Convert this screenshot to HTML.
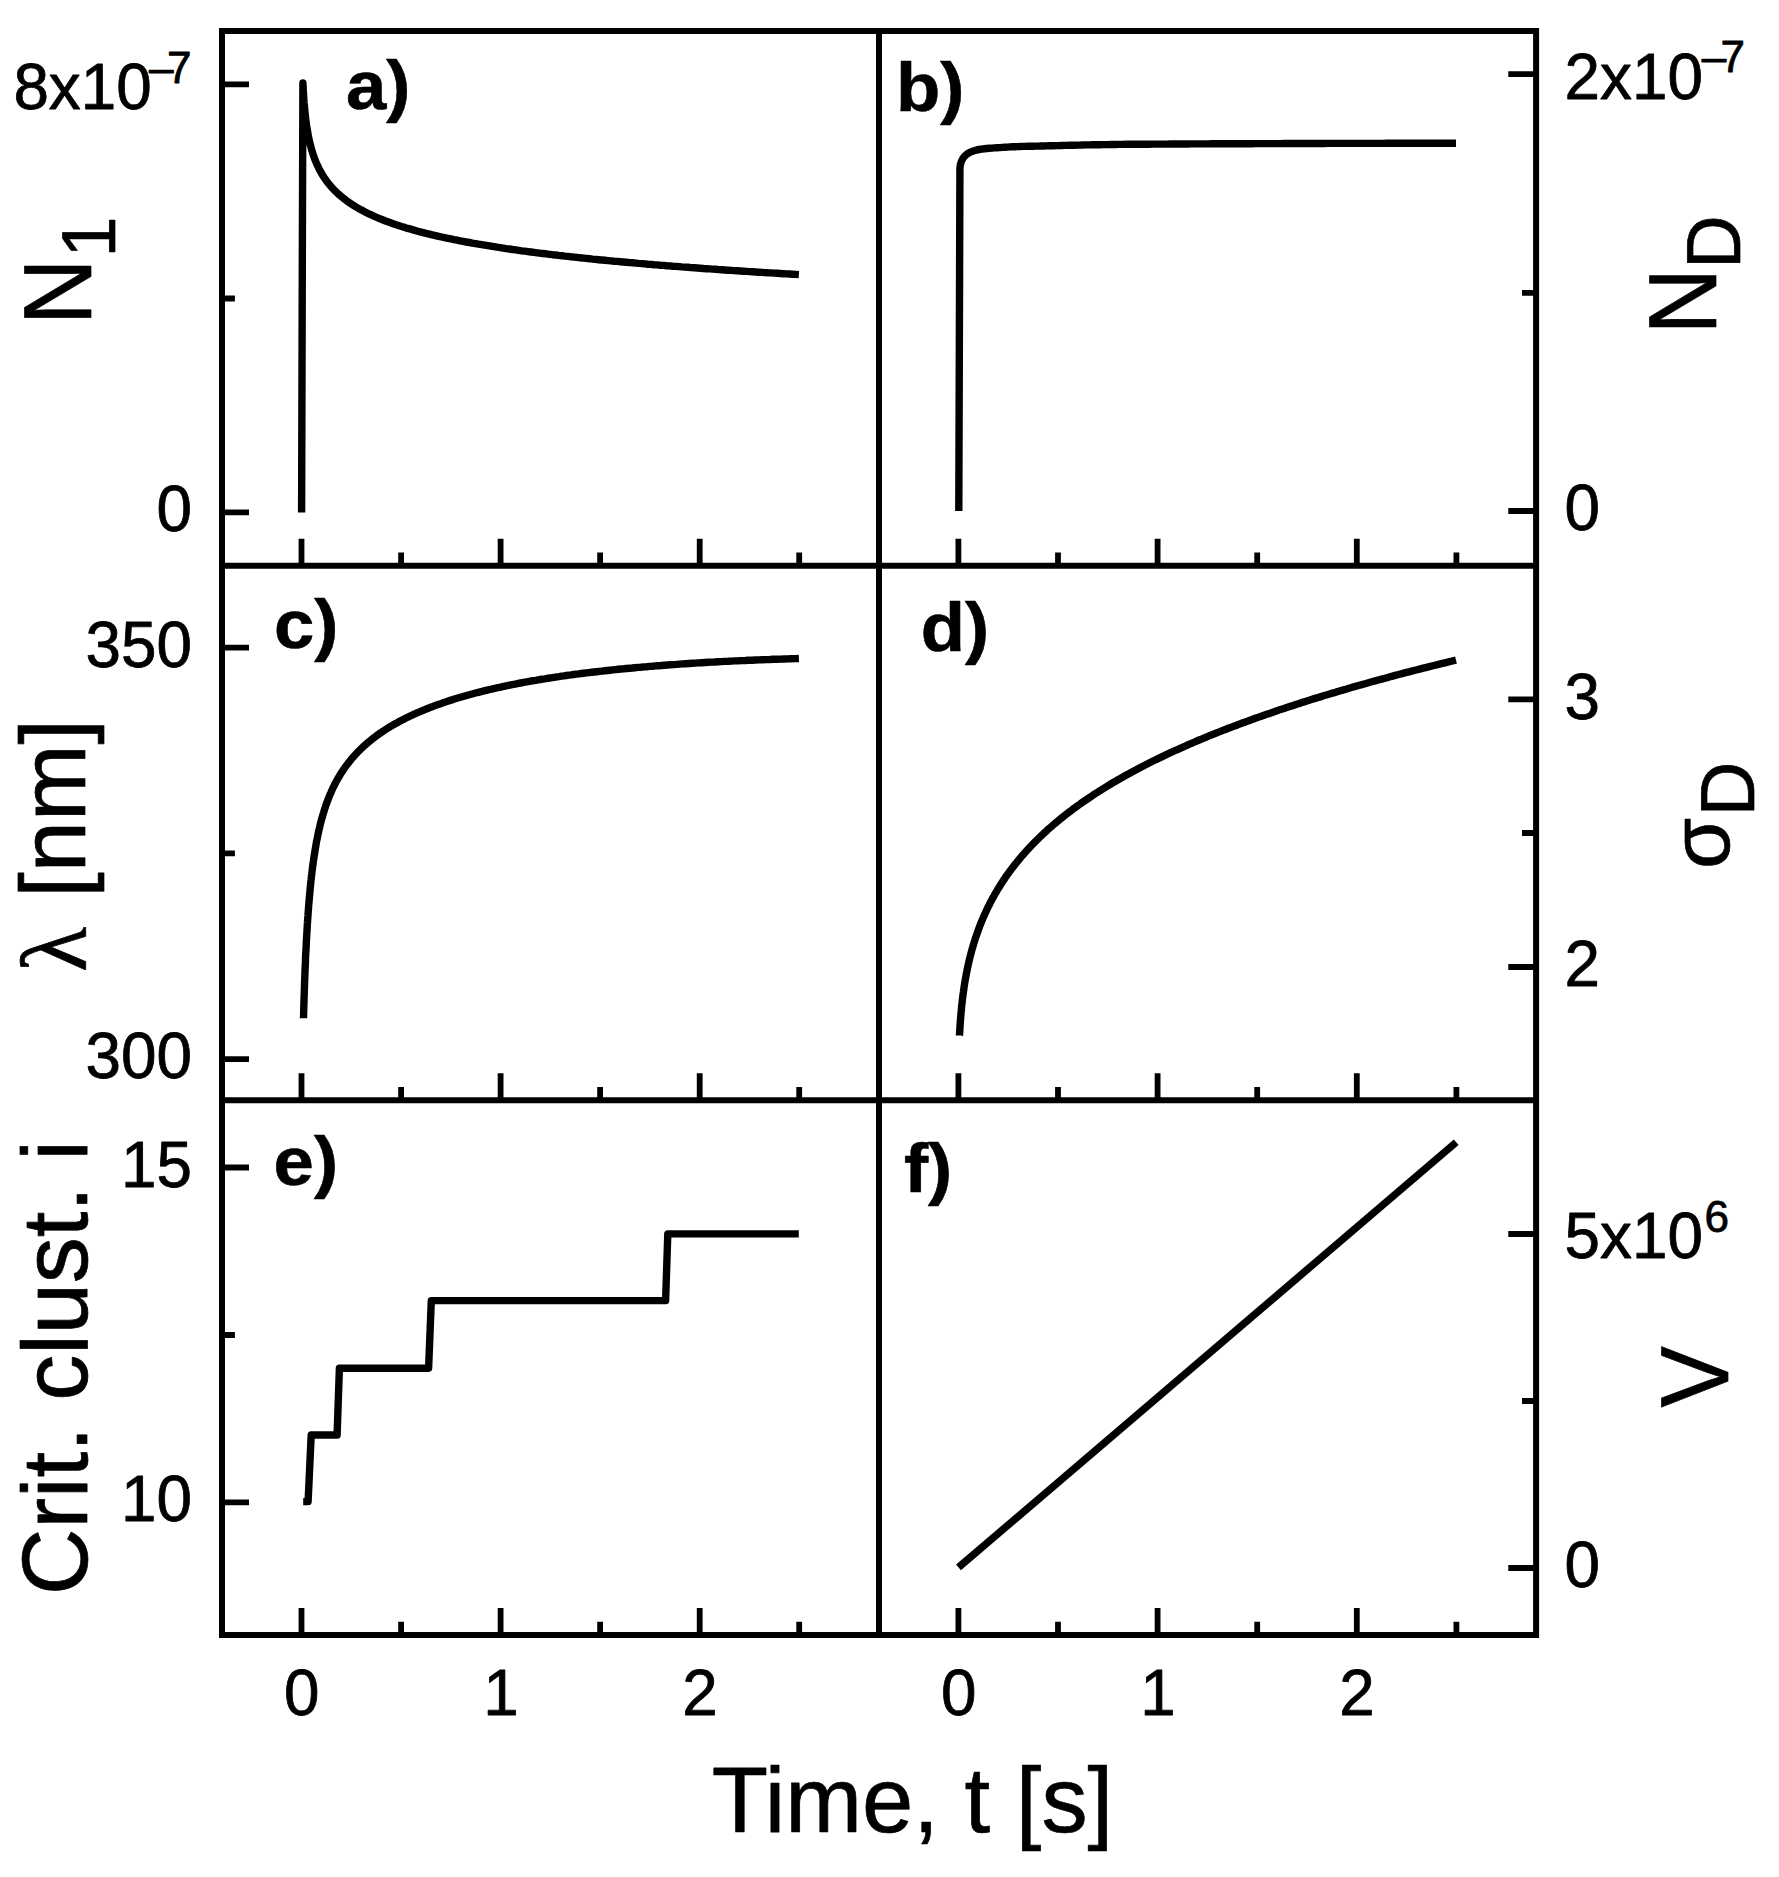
<!DOCTYPE html>
<html lang="en"><head><meta charset="utf-8"><title>Figure</title>
<style>html,body{margin:0;padding:0;background:#fff}svg{display:block}</style></head>
<body>
<svg width="1779" height="1877" viewBox="0 0 1779 1877">
<rect width="1779" height="1877" fill="#fff"/>
<g fill="none" stroke="#000" stroke-width="6.0" stroke-linecap="butt" stroke-linejoin="miter">
<rect x="222.0" y="31.0" width="1314.1" height="1604.0"/>
<path d="M879.0,31.0V1635.0M222.0,565.8H1536.1M222.0,1100.3H1536.1"/>
</g>
<path d="M301.5,565.8v-27.0M401.1,565.8v-13.3M500.6,565.8v-27.0M600.1,565.8v-13.3M699.7,565.8v-27.0M799.2,565.8v-13.3M958.4,565.8v-27.0M1058.0,565.8v-13.3M1157.6,565.8v-27.0M1257.2,565.8v-13.3M1356.8,565.8v-27.0M1456.4,565.8v-13.3M301.5,1100.3v-27.0M401.1,1100.3v-13.3M500.6,1100.3v-27.0M600.1,1100.3v-13.3M699.7,1100.3v-27.0M799.2,1100.3v-13.3M958.4,1100.3v-27.0M1058.0,1100.3v-13.3M1157.6,1100.3v-27.0M1257.2,1100.3v-13.3M1356.8,1100.3v-27.0M1456.4,1100.3v-13.3M301.5,1635.0v-27.0M401.1,1635.0v-13.3M500.6,1635.0v-27.0M600.1,1635.0v-13.3M699.7,1635.0v-27.0M799.2,1635.0v-13.3M958.4,1635.0v-27.0M1058.0,1635.0v-13.3M1157.6,1635.0v-27.0M1257.2,1635.0v-13.3M1356.8,1635.0v-27.0M1456.4,1635.0v-13.3M222.0,84.4h27.0M222.0,512.4h27.0M222.0,647.7h27.0M222.0,1059.1h27.0M222.0,1167.5h27.0M222.0,1502.4h27.0M222.0,298.5h12.9M222.0,853.3h12.9M222.0,1335.0h12.9M1536.1,74.2h-27.8M1536.1,511.0h-27.8M1536.1,699.4h-27.8M1536.1,967.0h-27.8M1536.1,1234.0h-27.8M1536.1,1568.0h-27.8M1536.1,292.8h-14.1M1536.1,833.0h-14.1M1536.1,1401.0h-14.1" fill="none" stroke="#000" stroke-width="5.8"/>
<g fill="none" stroke="#000" stroke-width="7.4" stroke-linejoin="round" stroke-linecap="butt">
<path d="M301.6,512.4L302.2,300.0L302.9,82.9L303.2,89.0L303.5,94.3L303.8,99.0L304.1,103.1L304.5,106.9L304.8,110.3L305.1,113.4L305.4,116.2L305.7,118.9L306.0,121.4L306.3,123.7L306.6,125.9L307.0,127.9L307.3,129.8L307.6,131.7L307.9,133.4L308.2,135.1L308.5,136.7L308.8,138.2L309.1,139.7L309.4,141.1L309.8,142.5L310.1,143.8L310.4,145.0L310.7,146.2L311.0,147.4L311.3,148.5L311.6,149.6L311.9,150.7L312.3,151.7L312.6,152.7L312.9,153.7L313.2,154.6L313.5,155.5L313.8,156.4L314.1,157.3L314.4,158.2L314.7,159.0L315.1,159.8L315.4,160.6L315.7,161.4L316.0,162.1L316.3,162.9L316.6,163.6L316.9,164.3L317.2,165.0L317.6,165.7L317.9,166.3L318.2,167.0L318.5,167.6L318.8,168.3L319.1,168.9L319.4,169.5L319.7,170.1L320.0,170.7L320.4,171.2L320.7,171.8L321.0,172.4L321.3,172.9L321.6,173.4L321.9,174.0L322.2,174.5L322.5,175.0L322.9,175.5L323.2,176.0L323.5,176.5L323.8,177.0L324.1,177.4L324.4,177.9L324.7,178.4L325.0,178.8L325.3,179.3L325.7,179.7L326.0,180.2L326.3,180.6L326.6,181.0L326.9,181.4L327.2,181.9L327.5,182.3L327.8,182.7L328.2,183.1L328.5,183.5L328.8,183.9L329.1,184.2L329.4,184.6L329.7,185.0L330.0,185.4L330.3,185.7L330.6,186.1L331.0,186.5L331.3,186.8L331.6,187.2L331.9,187.5L332.2,187.9L332.5,188.2L332.8,188.5L333.1,188.9L333.5,189.2L333.8,189.5L334.1,189.9L334.4,190.2L334.7,190.5L335.0,190.8L335.3,191.1L335.6,191.4L335.9,191.7L336.3,192.0L336.6,192.3L336.9,192.6L337.2,192.9L337.5,193.2L337.8,193.5L338.1,193.8L338.4,194.1L338.8,194.3L339.1,194.6L339.4,194.9L339.7,195.2L340.0,195.4L343.1,198.0L346.2,200.4L349.2,202.6L352.3,204.6L355.4,206.6L358.5,208.4L361.6,210.1L364.6,211.7L367.7,213.3L370.8,214.7L373.9,216.1L377.0,217.5L380.0,218.8L383.1,220.0L386.2,221.2L389.3,222.3L392.4,223.4L395.4,224.5L398.5,225.5L401.6,226.5L404.7,227.4L407.8,228.4L410.8,229.2L413.9,230.1L417.0,231.0L420.1,231.8L423.2,232.6L426.2,233.4L429.3,234.1L432.4,234.9L435.5,235.6L438.6,236.3L441.6,237.0L444.7,237.7L447.8,238.3L450.9,238.9L454.0,239.6L457.0,240.2L460.1,240.8L463.2,241.4L466.3,242.0L469.4,242.5L472.4,243.1L475.5,243.6L478.6,244.2L481.7,244.7L484.8,245.2L487.8,245.7L490.9,246.2L494.0,246.7L497.1,247.2L500.2,247.6L503.2,248.1L506.3,248.6L509.4,249.0L512.5,249.5L515.6,249.9L518.6,250.3L521.7,250.8L524.8,251.2L527.9,251.6L531.0,252.0L534.0,252.4L537.1,252.8L540.2,253.2L543.3,253.5L546.4,253.9L549.4,254.3L552.5,254.7L555.6,255.0L558.7,255.4L561.8,255.7L564.8,256.1L567.9,256.4L571.0,256.8L574.1,257.1L577.1,257.4L580.2,257.8L583.3,258.1L586.4,258.4L589.5,258.7L592.5,259.1L595.6,259.4L598.7,259.7L601.8,260.0L604.9,260.3L607.9,260.6L611.0,260.9L614.1,261.2L617.2,261.4L620.3,261.7L623.3,262.0L626.4,262.3L629.5,262.6L632.6,262.8L635.7,263.1L638.7,263.4L641.8,263.6L644.9,263.9L648.0,264.2L651.1,264.4L654.1,264.7L657.2,264.9L660.3,265.2L663.4,265.4L666.5,265.7L669.5,265.9L672.6,266.2L675.7,266.4L678.8,266.6L681.9,266.9L684.9,267.1L688.0,267.3L691.1,267.6L694.2,267.8L697.3,268.0L700.3,268.2L703.4,268.5L706.5,268.7L709.6,268.9L712.7,269.1L715.7,269.3L718.8,269.6L721.9,269.8L725.0,270.0L728.1,270.2L731.1,270.4L734.2,270.6L737.3,270.8L740.4,271.0L743.5,271.2L746.5,271.4L749.6,271.6L752.7,271.8L755.8,272.0L758.9,272.2L761.9,272.4L765.0,272.6L768.1,272.8L771.2,272.9L774.3,273.1L777.3,273.3L780.4,273.5L783.5,273.7L786.6,273.9L789.7,274.0L792.7,274.2L795.8,274.4L798.9,274.6"/>
<path d="M958.8,511.0L959.9,175.0L959.9,172.4L959.9,169.8L960.0,167.3L960.4,164.7L961.1,162.2L962.1,159.8L963.4,157.6L965.1,155.7L967.1,154.0L969.3,152.7L971.7,151.6L974.1,150.7L976.6,150.0L979.1,149.5L981.7,149.1L984.3,148.8L986.8,148.5L989.4,148.3L992.0,148.1L994.5,147.9L997.1,147.7L999.7,147.6L1002.3,147.4L1004.8,147.2L1007.4,147.1L1010.0,146.9L1012.5,146.8L1015.1,146.7L1017.7,146.6L1020.3,146.5L1022.9,146.4L1025.4,146.4L1028.0,146.3L1030.6,146.2L1033.2,146.2L1035.7,146.1L1038.3,146.1L1040.9,146.0L1043.5,146.0L1046.1,145.9L1048.6,145.8L1051.2,145.8L1053.8,145.7L1056.4,145.6L1058.9,145.6L1061.5,145.5L1064.1,145.4L1066.7,145.4L1069.3,145.3L1071.8,145.2L1074.4,145.2L1077.0,145.1L1079.6,145.1L1082.1,145.0L1084.7,144.9L1087.3,144.9L1089.9,144.9L1092.5,144.8L1095.0,144.8L1097.6,144.7L1100.2,144.7L1102.8,144.6L1105.3,144.6L1107.9,144.6L1110.5,144.5L1113.1,144.5L1115.7,144.5L1118.2,144.4L1120.8,144.4L1123.4,144.4L1126.0,144.3L1128.5,144.3L1131.1,144.3L1133.7,144.3L1136.3,144.2L1138.9,144.2L1141.4,144.2L1144.0,144.2L1146.6,144.2L1149.2,144.2L1151.8,144.1L1154.3,144.1L1156.9,144.1L1159.5,144.1L1162.1,144.1L1164.6,144.1L1167.2,144.1L1169.8,144.0L1172.4,144.0L1175.0,144.0L1177.5,144.0L1180.1,144.0L1182.7,144.0L1185.3,144.0L1187.8,144.0L1190.4,143.9L1193.0,143.9L1195.6,143.9L1198.2,143.9L1200.7,143.9L1203.3,143.9L1205.9,143.9L1208.5,143.9L1211.1,143.8L1213.6,143.8L1216.2,143.8L1218.8,143.8L1221.4,143.8L1223.9,143.8L1226.5,143.8L1229.1,143.8L1231.7,143.7L1234.3,143.7L1236.8,143.7L1239.4,143.7L1242.0,143.7L1244.6,143.7L1247.2,143.7L1249.7,143.7L1252.3,143.7L1254.9,143.6L1257.5,143.6L1260.0,143.6L1262.6,143.6L1265.2,143.6L1267.8,143.6L1270.4,143.6L1272.9,143.6L1275.5,143.6L1278.1,143.6L1280.7,143.6L1283.2,143.5L1285.8,143.5L1288.4,143.5L1291.0,143.5L1293.6,143.5L1296.1,143.5L1298.7,143.5L1301.3,143.5L1303.9,143.5L1306.5,143.5L1309.0,143.5L1311.6,143.5L1314.2,143.5L1316.8,143.5L1319.3,143.5L1321.9,143.5L1324.5,143.5L1327.1,143.4L1329.7,143.4L1332.2,143.4L1334.8,143.4L1337.4,143.4L1340.0,143.4L1342.6,143.4L1345.1,143.4L1347.7,143.4L1350.3,143.4L1352.9,143.4L1355.4,143.4L1358.0,143.4L1360.6,143.4L1363.2,143.4L1365.8,143.4L1368.3,143.4L1370.9,143.4L1373.5,143.4L1376.1,143.4L1378.6,143.4L1381.2,143.4L1383.8,143.4L1386.4,143.3L1389.0,143.3L1391.5,143.3L1394.1,143.3L1396.7,143.3L1399.3,143.3L1401.9,143.3L1404.4,143.3L1407.0,143.3L1409.6,143.3L1412.2,143.3L1414.7,143.3L1417.3,143.3L1419.9,143.3L1422.5,143.3L1425.1,143.3L1427.6,143.3L1430.2,143.3L1432.8,143.3L1435.4,143.3L1438.0,143.3L1440.5,143.3L1443.1,143.3L1445.7,143.3L1448.3,143.3L1450.8,143.3L1453.4,143.3L1456.0,143.3"/>
<path d="M303.5,1018.2L303.5,1018.2L303.5,1018.2L303.5,1018.2L303.5,1018.2L303.5,1018.2L303.5,1018.1L303.5,1018.1L303.5,1018.0L303.5,1018.0L303.5,1017.9L303.5,1017.8L303.5,1017.7L303.5,1017.5L303.5,1017.4L303.5,1017.2L303.5,1017.0L303.5,1016.8L303.5,1016.5L303.6,1016.2L303.6,1015.9L303.6,1015.5L303.6,1015.1L303.6,1014.7L303.6,1014.2L303.6,1013.7L303.6,1013.1L303.7,1012.5L303.7,1011.9L303.7,1011.2L303.7,1010.5L303.7,1009.7L303.8,1008.9L303.8,1008.0L303.8,1007.1L303.8,1006.2L303.9,1005.1L303.9,1004.1L303.9,1003.0L304.0,1001.8L304.0,1000.6L304.0,999.4L304.1,998.1L304.1,996.7L304.2,995.3L304.2,993.9L304.3,992.4L304.3,990.9L304.4,989.3L304.4,987.7L304.5,986.0L304.5,984.3L304.6,982.5L304.7,980.7L304.7,978.9L304.8,977.0L304.9,975.1L304.9,973.2L305.0,971.2L305.1,969.2L305.2,967.2L305.3,965.1L305.4,963.0L305.5,960.9L305.5,958.7L305.6,956.6L305.7,954.4L305.8,952.2L306.0,949.9L306.1,947.7L306.2,945.5L306.3,943.2L306.4,940.9L306.5,938.6L306.7,936.3L306.8,934.0L306.9,931.7L307.1,929.4L307.2,927.1L307.3,924.8L307.5,922.5L307.6,920.1L307.8,917.8L308.0,915.5L308.1,913.2L308.3,910.9L308.5,908.6L308.6,906.4L308.8,904.1L309.0,901.8L309.2,899.6L309.4,897.3L309.6,895.1L309.8,892.9L310.0,890.7L310.2,888.5L310.4,886.4L310.6,884.2L310.8,882.1L311.1,879.9L311.3,877.8L311.5,875.7L311.8,873.7L312.0,871.6L312.3,869.6L312.5,867.6L312.8,865.6L313.1,863.6L313.3,861.6L313.6,859.7L313.9,857.7L314.2,855.8L314.5,853.9L314.8,852.1L315.1,850.2L315.4,848.4L315.7,846.6L316.0,844.8L316.3,843.0L316.6,841.2L317.0,839.5L317.3,837.8L317.7,836.1L318.0,834.4L318.4,832.7L318.7,831.1L319.1,829.4L319.5,827.8L319.9,826.2L320.2,824.6L320.6,823.1L321.0,821.5L321.4,820.0L321.8,818.5L322.3,817.0L322.7,815.5L323.1,814.1L323.6,812.6L324.0,811.2L324.4,809.7L324.9,808.3L325.4,807.0L325.8,805.6L326.3,804.2L326.8,802.9L327.3,801.5L327.8,800.2L328.3,798.9L328.8,797.6L329.3,796.3L329.8,795.1L330.4,793.8L330.9,792.6L331.4,791.3L332.0,790.1L332.5,788.9L333.1,787.7L333.7,786.5L334.3,785.4L334.8,784.2L335.4,783.1L336.0,781.9L336.7,780.8L337.3,779.7L337.9,778.6L338.5,777.5L339.2,776.4L339.8,775.3L340.5,774.2L341.1,773.2L341.8,772.1L342.5,771.1L343.2,770.1L343.9,769.0L344.6,768.0L345.3,767.0L346.0,766.0L346.7,765.0L347.5,764.1L348.2,763.1L349.0,762.1L349.7,761.2L350.5,760.2L351.3,759.3L352.1,758.3L352.9,757.4L353.7,756.5L354.5,755.6L355.3,754.7L356.2,753.8L357.0,752.9L357.8,752.0L358.7,751.1L359.6,750.3L360.4,749.4L361.3,748.5L362.2,747.7L363.1,746.8L364.0,746.0L365.0,745.2L365.9,744.3L366.8,743.5L367.8,742.7L368.7,741.9L369.7,741.1L370.7,740.3L371.7,739.5L372.7,738.7L373.7,737.9L374.7,737.2L375.7,736.4L376.8,735.6L377.8,734.9L378.9,734.1L379.9,733.4L381.0,732.6L382.1,731.9L383.2,731.1L384.3,730.4L385.4,729.7L386.5,729.0L387.7,728.2L388.8,727.5L390.0,726.8L391.2,726.1L392.3,725.4L393.5,724.7L394.7,724.0L395.9,723.4L397.2,722.7L398.4,722.0L399.6,721.3L400.9,720.7L402.2,720.0L403.4,719.4L404.7,718.7L406.0,718.0L407.3,717.4L408.6,716.8L410.0,716.1L411.3,715.5L412.7,714.9L414.0,714.2L415.4,713.6L416.8,713.0L418.2,712.4L419.6,711.8L421.0,711.2L422.5,710.6L423.9,710.0L425.4,709.4L426.8,708.8L428.3,708.2L429.8,707.6L431.3,707.0L432.8,706.5L434.3,705.9L435.9,705.3L437.4,704.8L439.0,704.2L440.6,703.7L442.2,703.1L443.8,702.5L445.4,702.0L447.0,701.5L448.6,700.9L450.3,700.4L451.9,699.9L453.6,699.3L455.3,698.8L457.0,698.3L458.7,697.8L460.4,697.3L462.2,696.7L463.9,696.2L465.7,695.7L467.5,695.2L469.3,694.7L471.1,694.2L472.9,693.8L474.7,693.3L476.5,692.8L478.4,692.3L480.3,691.8L482.1,691.4L484.0,690.9L485.9,690.4L487.9,690.0L489.8,689.5L491.7,689.1L493.7,688.6L495.7,688.2L497.7,687.7L499.7,687.3L501.7,686.8L503.7,686.4L505.8,686.0L507.8,685.5L509.9,685.1L512.0,684.7L514.1,684.3L516.2,683.9L518.3,683.4L520.5,683.0L522.6,682.6L524.8,682.2L527.0,681.8L529.2,681.4L531.4,681.0L533.6,680.6L535.8,680.3L538.1,679.9L540.4,679.5L542.6,679.1L544.9,678.8L547.3,678.4L549.6,678.0L551.9,677.7L554.3,677.3L556.7,676.9L559.1,676.6L561.5,676.2L563.9,675.9L566.3,675.5L568.8,675.2L571.2,674.9L573.7,674.5L576.2,674.2L578.7,673.9L581.2,673.5L583.8,673.2L586.3,672.9L588.9,672.6L591.5,672.3L594.1,672.0L596.7,671.7L599.3,671.4L602.0,671.1L604.7,670.8L607.3,670.5L610.0,670.2L612.7,669.9L615.5,669.6L618.2,669.3L621.0,669.0L623.8,668.8L626.5,668.5L629.4,668.2L632.2,668.0L635.0,667.7L637.9,667.4L640.8,667.2L643.6,666.9L646.6,666.7L649.5,666.4L652.4,666.2L655.4,665.9L658.3,665.7L661.3,665.5L664.3,665.2L667.4,665.0L670.4,664.8L673.5,664.6L676.5,664.4L679.6,664.1L682.7,663.9L685.9,663.7L689.0,663.5L692.2,663.3L695.3,663.1L698.5,662.9L701.8,662.7L705.0,662.5L708.2,662.3L711.5,662.1L714.8,662.0L718.1,661.8L721.4,661.6L724.7,661.4L728.1,661.3L731.4,661.1L734.8,660.9L738.2,660.8L741.7,660.6L745.1,660.5L748.6,660.3L752.0,660.2L755.5,660.0L759.0,659.9L762.6,659.7L766.1,659.6L769.7,659.5L773.3,659.3L776.9,659.2L780.5,659.1L784.1,659.0L787.8,658.9L791.5,658.7L795.2,658.6L798.9,658.5"/>
<path d="M959.5,1035.6L959.5,1035.6L959.5,1035.6L959.5,1035.6L959.5,1035.6L959.5,1035.6L959.5,1035.6L959.5,1035.5L959.5,1035.5L959.5,1035.5L959.5,1035.4L959.5,1035.4L959.5,1035.3L959.5,1035.3L959.5,1035.2L959.5,1035.1L959.5,1035.0L959.5,1034.8L959.5,1034.7L959.6,1034.5L959.6,1034.4L959.6,1034.2L959.6,1033.9L959.6,1033.7L959.6,1033.5L959.6,1033.2L959.6,1032.9L959.7,1032.6L959.7,1032.3L959.7,1031.9L959.7,1031.5L959.7,1031.1L959.8,1030.7L959.8,1030.3L959.8,1029.8L959.8,1029.4L959.9,1028.9L959.9,1028.3L959.9,1027.8L960.0,1027.2L960.0,1026.6L960.0,1026.0L960.1,1025.4L960.1,1024.8L960.2,1024.1L960.2,1023.4L960.3,1022.7L960.3,1022.0L960.4,1021.3L960.4,1020.5L960.5,1019.7L960.5,1019.0L960.6,1018.2L960.7,1017.3L960.7,1016.5L960.8,1015.7L960.9,1014.8L960.9,1013.9L961.0,1013.0L961.1,1012.2L961.2,1011.2L961.3,1010.3L961.4,1009.4L961.5,1008.4L961.5,1007.5L961.6,1006.5L961.7,1005.6L961.9,1004.6L962.0,1003.6L962.1,1002.6L962.2,1001.6L962.3,1000.6L962.4,999.5L962.5,998.5L962.7,997.5L962.8,996.4L962.9,995.4L963.1,994.3L963.2,993.3L963.4,992.2L963.5,991.1L963.7,990.1L963.8,989.0L964.0,987.9L964.1,986.8L964.3,985.7L964.5,984.6L964.6,983.5L964.8,982.4L965.0,981.3L965.2,980.2L965.4,979.1L965.6,978.0L965.8,976.9L966.0,975.8L966.2,974.6L966.4,973.5L966.6,972.4L966.9,971.3L967.1,970.1L967.3,969.0L967.6,967.9L967.8,966.7L968.0,965.6L968.3,964.4L968.5,963.3L968.8,962.2L969.1,961.0L969.3,959.9L969.6,958.7L969.9,957.6L970.2,956.4L970.5,955.3L970.8,954.2L971.1,953.0L971.4,951.9L971.7,950.7L972.0,949.6L972.3,948.4L972.7,947.3L973.0,946.1L973.3,945.0L973.7,943.8L974.0,942.7L974.4,941.5L974.8,940.4L975.1,939.2L975.5,938.1L975.9,936.9L976.3,935.8L976.7,934.6L977.1,933.5L977.5,932.3L977.9,931.2L978.3,930.0L978.7,928.9L979.2,927.7L979.6,926.6L980.0,925.4L980.5,924.3L980.9,923.1L981.4,922.0L981.9,920.9L982.4,919.7L982.8,918.6L983.3,917.4L983.8,916.3L984.3,915.1L984.8,914.0L985.4,912.9L985.9,911.7L986.4,910.6L986.9,909.4L987.5,908.3L988.0,907.2L988.6,906.0L989.2,904.9L989.7,903.8L990.3,902.6L990.9,901.5L991.5,900.4L992.1,899.2L992.7,898.1L993.4,897.0L994.0,895.9L994.6,894.7L995.3,893.6L995.9,892.5L996.6,891.4L997.2,890.2L997.9,889.1L998.6,888.0L999.3,886.9L1000.0,885.8L1000.7,884.6L1001.4,883.5L1002.1,882.4L1002.8,881.3L1003.6,880.2L1004.3,879.1L1005.1,878.0L1005.8,876.8L1006.6,875.7L1007.4,874.6L1008.2,873.5L1009.0,872.4L1009.8,871.3L1010.6,870.2L1011.4,869.1L1012.3,868.0L1013.1,866.9L1014.0,865.8L1014.8,864.7L1015.7,863.6L1016.6,862.5L1017.5,861.4L1018.4,860.3L1019.3,859.2L1020.2,858.1L1021.1,857.0L1022.0,855.9L1023.0,854.9L1023.9,853.8L1024.9,852.7L1025.9,851.6L1026.8,850.5L1027.8,849.4L1028.8,848.4L1029.8,847.3L1030.9,846.2L1031.9,845.1L1032.9,844.0L1034.0,843.0L1035.0,841.9L1036.1,840.8L1037.2,839.7L1038.3,838.7L1039.4,837.6L1040.5,836.5L1041.6,835.5L1042.7,834.4L1043.9,833.3L1045.0,832.3L1046.2,831.2L1047.4,830.1L1048.5,829.1L1049.7,828.0L1050.9,827.0L1052.1,825.9L1053.4,824.8L1054.6,823.8L1055.8,822.7L1057.1,821.7L1058.4,820.6L1059.6,819.6L1060.9,818.5L1062.2,817.5L1063.6,816.4L1064.9,815.4L1066.2,814.3L1067.6,813.3L1068.9,812.3L1070.3,811.2L1071.7,810.2L1073.0,809.1L1074.4,808.1L1075.9,807.1L1077.3,806.0L1078.7,805.0L1080.2,804.0L1081.6,802.9L1083.1,801.9L1084.6,800.9L1086.1,799.8L1087.6,798.8L1089.1,797.8L1090.6,796.8L1092.2,795.7L1093.7,794.7L1095.3,793.7L1096.9,792.7L1098.5,791.6L1100.1,790.6L1101.7,789.6L1103.3,788.6L1105.0,787.6L1106.6,786.6L1108.3,785.5L1110.0,784.5L1111.6,783.5L1113.3,782.5L1115.1,781.5L1116.8,780.5L1118.5,779.5L1120.3,778.5L1122.1,777.5L1123.8,776.5L1125.6,775.5L1127.4,774.5L1129.3,773.5L1131.1,772.5L1132.9,771.5L1134.8,770.5L1136.7,769.5L1138.5,768.5L1140.4,767.5L1142.4,766.5L1144.3,765.5L1146.2,764.5L1148.2,763.5L1150.1,762.5L1152.1,761.5L1154.1,760.5L1156.1,759.6L1158.1,758.6L1160.2,757.6L1162.2,756.6L1164.3,755.6L1166.3,754.6L1168.4,753.7L1170.5,752.7L1172.7,751.7L1174.8,750.7L1176.9,749.8L1179.1,748.8L1181.3,747.8L1183.5,746.8L1185.7,745.9L1187.9,744.9L1190.1,743.9L1192.4,743.0L1194.6,742.0L1196.9,741.0L1199.2,740.0L1201.5,739.1L1203.8,738.1L1206.1,737.2L1208.5,736.2L1210.9,735.2L1213.2,734.3L1215.6,733.3L1218.0,732.4L1220.5,731.4L1222.9,730.4L1225.3,729.5L1227.8,728.5L1230.3,727.6L1232.8,726.6L1235.3,725.7L1237.8,724.7L1240.4,723.8L1243.0,722.8L1245.5,721.9L1248.1,720.9L1250.7,720.0L1253.4,719.0L1256.0,718.1L1258.7,717.1L1261.3,716.2L1264.0,715.2L1266.7,714.3L1269.4,713.4L1272.2,712.4L1274.9,711.5L1277.7,710.5L1280.5,709.6L1283.3,708.7L1286.1,707.7L1288.9,706.8L1291.8,705.9L1294.6,704.9L1297.5,704.0L1300.4,703.1L1303.3,702.1L1306.2,701.2L1309.2,700.3L1312.2,699.3L1315.1,698.4L1318.1,697.5L1321.1,696.6L1324.2,695.6L1327.2,694.7L1330.3,693.8L1333.4,692.9L1336.5,691.9L1339.6,691.0L1342.7,690.1L1345.9,689.2L1349.0,688.2L1352.2,687.3L1355.4,686.4L1358.6,685.5L1361.9,684.6L1365.1,683.7L1368.4,682.7L1371.7,681.8L1375.0,680.9L1378.3,680.0L1381.7,679.1L1385.0,678.2L1388.4,677.3L1391.8,676.3L1395.2,675.4L1398.6,674.5L1402.1,673.6L1405.5,672.7L1409.0,671.8L1412.5,670.9L1416.1,670.0L1419.6,669.1L1423.2,668.2L1426.7,667.3L1430.3,666.4L1433.9,665.5L1437.6,664.6L1441.2,663.7L1444.9,662.8L1448.6,661.9L1452.3,661.0L1456.0,660.1"/>
<path d="M303.2,1501.6L308.1,1501.6L311.2,1435.0L337.1,1435.0L339.4,1368.2L428.6,1368.2L431.3,1300.6L665.6,1300.6L667.8,1233.9L798.8,1233.9"/>
<path d="M958.5,1567.4L1456.2,1142.3"/>
</g>
<g font-family='"Liberation Sans", Arial, Helvetica, sans-serif' fill="#000">
<text transform="translate(345.9,109.4) scale(1.0450,1)" font-size="69.4" font-weight="bold" stroke="#000" stroke-width="0.6" stroke-linejoin="round">a)</text>
<text transform="translate(895.9,110.8) scale(1.0450,1)" font-size="69.4" font-weight="bold" stroke="#000" stroke-width="0.6" stroke-linejoin="round">b)</text>
<text transform="translate(273.9,647.8) scale(1.0450,1)" font-size="69.4" font-weight="bold" stroke="#000" stroke-width="0.6" stroke-linejoin="round">c)</text>
<text transform="translate(920.8,650.8) scale(1.0450,1)" font-size="69.4" font-weight="bold" stroke="#000" stroke-width="0.6" stroke-linejoin="round">d)</text>
<text transform="translate(273.6,1184.8) scale(1.0450,1)" font-size="69.4" font-weight="bold" stroke="#000" stroke-width="0.6" stroke-linejoin="round">e)</text>
<text transform="translate(903.9,1192.3) scale(1.0450,1)" font-size="69.4" font-weight="bold" stroke="#000" stroke-width="0.6" stroke-linejoin="round">f)</text>
<text transform="translate(301.8,1714.6) scale(0.9740,1)" font-size="65.5" text-anchor="middle" stroke="#000" stroke-width="0.8" stroke-linejoin="round">0</text>
<text transform="translate(500.9,1714.6) scale(0.9740,1)" font-size="65.5" text-anchor="middle" stroke="#000" stroke-width="0.8" stroke-linejoin="round">1</text>
<text transform="translate(700.0,1714.6) scale(0.9740,1)" font-size="65.5" text-anchor="middle" stroke="#000" stroke-width="0.8" stroke-linejoin="round">2</text>
<text transform="translate(958.7,1714.6) scale(0.9740,1)" font-size="65.5" text-anchor="middle" stroke="#000" stroke-width="0.8" stroke-linejoin="round">0</text>
<text transform="translate(1157.9,1714.6) scale(0.9740,1)" font-size="65.5" text-anchor="middle" stroke="#000" stroke-width="0.8" stroke-linejoin="round">1</text>
<text transform="translate(1357.1,1714.6) scale(0.9740,1)" font-size="65.5" text-anchor="middle" stroke="#000" stroke-width="0.8" stroke-linejoin="round">2</text>
<text transform="translate(192.0,531.4) scale(0.9740,1)" font-size="65.5" text-anchor="end" stroke="#000" stroke-width="0.8" stroke-linejoin="round">0</text>
<text transform="translate(192.0,666.7) scale(0.9740,1)" font-size="65.5" text-anchor="end" stroke="#000" stroke-width="0.8" stroke-linejoin="round">350</text>
<text transform="translate(192.0,1078.1) scale(0.9740,1)" font-size="65.5" text-anchor="end" stroke="#000" stroke-width="0.8" stroke-linejoin="round">300</text>
<text transform="translate(192.0,1186.5) scale(0.9740,1)" font-size="65.5" text-anchor="end" stroke="#000" stroke-width="0.8" stroke-linejoin="round">15</text>
<text transform="translate(192.0,1521.4) scale(0.9740,1)" font-size="65.5" text-anchor="end" stroke="#000" stroke-width="0.8" stroke-linejoin="round">10</text>
<text transform="translate(13.4,108.8) scale(0.9740,1)" font-size="65.5" stroke="#000" stroke-width="0.8" stroke-linejoin="round">8x10<tspan font-size="45.3" dy="-26.3" dx="-2.8">–</tspan><tspan font-size="45.3" dx="-6.6">7</tspan></text>
<text transform="translate(1564.6,530.2) scale(0.9740,1)" font-size="65.5" stroke="#000" stroke-width="0.8" stroke-linejoin="round">0</text>
<text transform="translate(1564.6,718.6) scale(0.9740,1)" font-size="65.5" stroke="#000" stroke-width="0.8" stroke-linejoin="round">3</text>
<text transform="translate(1564.6,986.2) scale(0.9740,1)" font-size="65.5" stroke="#000" stroke-width="0.8" stroke-linejoin="round">2</text>
<text transform="translate(1564.6,1587.2) scale(0.9740,1)" font-size="65.5" stroke="#000" stroke-width="0.8" stroke-linejoin="round">0</text>
<text transform="translate(1564.6,98.6) scale(0.9740,1)" font-size="65.5" stroke="#000" stroke-width="0.8" stroke-linejoin="round">2x10<tspan font-size="45.3" dy="-26.3" dx="-1.2">–</tspan><tspan font-size="45.3" dx="-6.0">7</tspan></text>
<text transform="translate(1564.6,1258.2) scale(0.9740,1)" font-size="65.5" stroke="#000" stroke-width="0.8" stroke-linejoin="round">5x10<tspan font-size="45.3" dy="-26.4" dx="1.6">6</tspan></text>
<text transform="translate(711.8,1831.6) scale(0.9920,1)" font-size="93.0" stroke="#000" stroke-width="0.7" stroke-linejoin="round">Time, t [s]</text>
<text transform="translate(91.0,325.0) rotate(-90) scale(0.9615,1)" font-size="95.7" stroke="#000" stroke-width="0.7" stroke-linejoin="round">N<tspan font-size="76.8" dy="24" dx="1.0">1</tspan></text>
<text transform="translate(86.0,972.0) rotate(-90)" font-size="92.0" stroke="#000" stroke-width="0.7" stroke-linejoin="round"><tspan font-family='"Liberation Serif", "DejaVu Serif", serif' font-size="93">λ</tspan><tspan dx="3.6" dy="-1.5"> [nm]</tspan></text>
<text transform="translate(86.6,1595.0) rotate(-90)" font-size="92.0" stroke="#000" stroke-width="0.7" stroke-linejoin="round">Crit. clust. i</text>
<text transform="translate(1715.5,334.5) rotate(-90) scale(0.9615,1)" font-size="95.7" stroke="#000" stroke-width="0.7" stroke-linejoin="round">N<tspan font-size="76.8" dy="24.4" dx="-0.7">D</tspan></text>
<text transform="translate(1729.0,869.0) rotate(-90)" font-size="83.0" stroke="#000" stroke-width="0.7" stroke-linejoin="round">σ<tspan font-size="75.6" dy="24.6" dx="1.6">D</tspan></text>
<text transform="translate(1727.7,1407.5) rotate(-90) scale(0.9615,1)" font-size="95.7" stroke="#000" stroke-width="0.7" stroke-linejoin="round">V</text>
</g>
</svg>
</body></html>
